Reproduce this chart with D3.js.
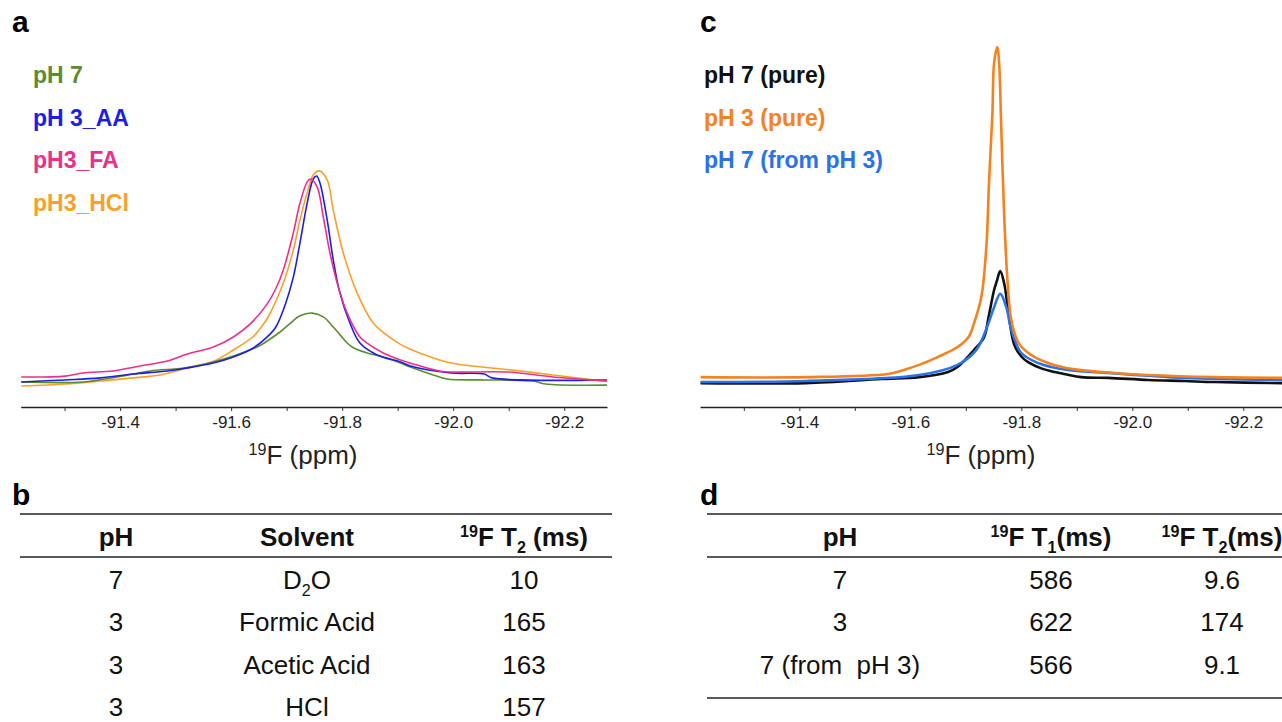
<!DOCTYPE html>
<html>
<head>
<meta charset="utf-8">
<script src="https://cdn.jsdelivr.net/npm/d3@7"></script>
<style>
  body { margin: 0; background: #fff; }
  svg { display: block; font-family: "Liberation Sans", Arial, Helvetica, sans-serif; }
</style>
</head>
<body>
<div id="app"></div>
<script>
// ---- data ----
const ppmDomain = [-91.221, -92.277];
const tickValues = [-91.3, -91.4, -91.5, -91.6, -91.7, -91.8, -91.9, -92.0, -92.1, -92.2];
const labelTicks = [-91.4, -91.6, -91.8, -92.0, -92.2];

// panel a : [ppm, intensity (a.u.)]
const aLabels = ['pH 7', 'pH 3_AA', 'pH3_FA', 'pH3_HCl'];
const aColors = ['#5b8c32', '#1e1ee0', '#ec2f8a', '#f7a12b'];
const aPH7 = [
  [-91.222, 5.8], [-91.333, 5.8], [-91.395, 8.0], [-91.454, 10.7], [-91.514, 12.0],
  [-91.568, 14.7], [-91.604, 17.3], [-91.652, 22.0], [-91.665, 24.0], [-91.688, 28.0],
  [-91.705, 31.5], [-91.724, 35.2], [-91.746, 36.4], [-91.766, 34.7], [-91.784, 30.2],
  [-91.797, 26.5], [-91.809, 23.1], [-91.820, 21.0], [-91.845, 18.7], [-91.874, 16.9],
  [-91.905, 14.2], [-91.923, 12.4], [-91.964, 8.9], [-91.989, 7.1], [-92.060, 6.7],
  [-92.144, 6.2], [-92.166, 4.9], [-92.277, 4.4]
];
const aAA = [
  [-91.222, 5.8], [-91.301, 6.7], [-91.364, 7.6], [-91.423, 9.3], [-91.485, 10.7],
  [-91.521, 12.0], [-91.568, 14.2], [-91.604, 16.9], [-91.640, 20.9], [-91.665, 25.8],
  [-91.680, 30.0], [-91.694, 37.8], [-91.712, 52.4], [-91.724, 67.6], [-91.737, 85.3],
  [-91.748, 96.0], [-91.754, 97.3], [-91.760, 94.2], [-91.773, 77.8], [-91.784, 60.0],
  [-91.796, 45.3], [-91.814, 32.0], [-91.832, 23.1], [-91.863, 17.8], [-91.905, 14.7],
  [-91.923, 12.9], [-91.996, 9.8], [-92.056, 9.3], [-92.070, 7.6], [-92.277, 6.7]
];
const aFA = [
  [-91.222, 8.0], [-91.301, 8.4], [-91.333, 9.8], [-91.387, 10.7], [-91.436, 12.9],
  [-91.485, 15.1], [-91.521, 18.2], [-91.568, 21.3], [-91.604, 25.8], [-91.634, 31.5],
  [-91.665, 40.5], [-91.680, 47.0], [-91.694, 55.6], [-91.712, 72.0], [-91.724, 85.3],
  [-91.737, 94.7], [-91.743, 96.0], [-91.755, 92.4], [-91.766, 79.1], [-91.778, 63.1],
  [-91.791, 49.8], [-91.809, 36.4], [-91.832, 25.8], [-91.845, 23.1], [-91.874, 18.7],
  [-91.905, 15.6], [-91.935, 13.3], [-91.975, 10.7], [-92.000, 10.2], [-92.099, 10.2],
  [-92.180, 8.0], [-92.277, 6.2]
];
const aHCl = [
  [-91.222, 4.0], [-91.301, 4.9], [-91.364, 6.2], [-91.423, 7.6], [-91.472, 8.9],
  [-91.521, 12.0], [-91.568, 15.0], [-91.604, 20.0], [-91.640, 26.0], [-91.652, 29.5],
  [-91.665, 34.0], [-91.694, 49.8], [-91.712, 64.4], [-91.724, 77.8], [-91.737, 89.8],
  [-91.748, 97.8], [-91.759, 99.6], [-91.773, 95.6], [-91.784, 82.2], [-91.802, 63.1],
  [-91.827, 45.3], [-91.856, 32.0], [-91.881, 26.5], [-91.905, 22.5], [-91.923, 20.3],
  [-91.953, 17.4], [-91.996, 14.2], [-92.106, 11.1], [-92.180, 8.9], [-92.277, 6.0]
];

// panel c
const cLabels = ['pH 7 (pure)', 'pH 3 (pure)', 'pH 7 (from pH 3)'];
const cColors = ['#111111', '#f5821f', '#2a72ea'];
const cPH7 = [
  [-91.222, 3.4], [-91.411, 3.4], [-91.548, 4.6], [-91.616, 5.1], [-91.668, 6.6],
  [-91.685, 8.0], [-91.715, 12.9], [-91.733, 16.5], [-91.741, 22.3], [-91.751, 30.0],
  [-91.756, 32.6], [-91.762, 35.4], [-91.769, 32.0], [-91.777, 23.4], [-91.787, 14.5],
  [-91.800, 11.0], [-91.813, 9.3], [-91.836, 7.6], [-91.859, 6.6], [-91.908, 5.1],
  [-91.957, 4.9], [-92.029, 4.3], [-92.094, 4.0], [-92.148, 3.7], [-92.272, 3.4]
];
const cPH3 = [
  [-91.222, 5.1], [-91.411, 5.1], [-91.560, 6.0], [-91.587, 7.1], [-91.616, 8.6],
  [-91.650, 10.9], [-91.685, 13.7], [-91.705, 16.6], [-91.715, 20.6], [-91.728, 28.0],
  [-91.737, 42.3], [-91.742, 61.4], [-91.748, 80.6], [-91.751, 94.9], [-91.757, 99.4],
  [-91.760, 94.9], [-91.764, 75.7], [-91.769, 52.0], [-91.775, 32.9], [-91.782, 21.4],
  [-91.795, 14.9], [-91.818, 11.4], [-91.859, 8.6], [-91.908, 7.1], [-91.968, 6.3],
  [-92.029, 5.7], [-92.148, 5.1], [-92.272, 4.9]
];
const cFrom3 = [
  [-91.222, 3.7], [-91.411, 4.0], [-91.616, 5.7], [-91.685, 8.6], [-91.719, 12.9],
  [-91.741, 20.6], [-91.751, 25.1], [-91.762, 28.9], [-91.773, 25.1], [-91.782, 18.6],
  [-91.800, 12.0], [-91.831, 9.1], [-91.854, 8.0], [-91.888, 7.1], [-91.957, 6.3],
  [-92.094, 4.9], [-92.272, 4.3]
];

// tables
const bHeader = [[{ t: 'pH' }], [{ t: 'Solvent' }], [{ t: '19', sup: true }, { t: 'F T' }, { t: '2', sub: true }, { t: ' (ms)' }]];
const bPH = ['7', '3', '3', '3'];
const bSolvent = [[{ t: 'D' }, { t: '2', sub: true }, { t: 'O' }], [{ t: 'Formic Acid' }], [{ t: 'Acetic Acid' }], [{ t: 'HCl' }]];
const bT2 = ['10', '165', '163', '157'];

const dHeader = [[{ t: 'pH' }], [{ t: '19', sup: true }, { t: 'F T' }, { t: '1', sub: true }, { t: '(ms)' }], [{ t: '19', sup: true }, { t: 'F T' }, { t: '2', sub: true }, { t: '(ms)' }]];
const dPH = ['7', '3', '7 (from\u00a0 pH 3)'];
const dT1 = ['586', '622', '566'];
const dT2 = ['9.6', '174', '9.1'];

// ---- drawing ----
const W = 1282, H = 722;
const svg = d3.select('#app').append('svg').attr('width', W).attr('height', H);

const rich = (sel, parts, size) => {
  let off = 0;
  parts.forEach(p => {
    const target = p.sup ? -size * 0.36 : p.sub ? size * 0.26 : 0;
    const ts = sel.append('tspan').text(p.t).attr('dy', target - off);
    if (p.sup || p.sub) ts.attr('font-size', size * 0.62);
    off = target;
  });
};

const panelLetter = (txt, x, y) => svg.append('text')
  .attr('x', x).attr('y', y).attr('font-size', 30).attr('font-weight', 'bold').text(txt);

const spectrum = (opt) => {
  const x = d3.scaleLinear().domain(ppmDomain).range(opt.xRange);
  const y = d3.scaleLinear().domain([0, 100]).range([395, opt.top]);
  const g = svg.append('g');

  const axis = d3.axisBottom(x)
    .tickValues(tickValues)
    .tickSize(4)
    .tickSizeOuter(0)
    .tickFormat(v => labelTicks.some(l => Math.abs(l - v) < 1e-6) ? d3.format('.1f')(v).replace('−', '-') : '');
  const ax = g.append('g').attr('transform', `translate(0,${opt.axisY})`).call(axis);
  ax.select('.domain').attr('stroke', '#222').attr('stroke-width', 1.6);
  ax.selectAll('.tick line').attr('stroke', '#333').attr('stroke-width', 1);
  ax.selectAll('.tick text')
    .attr('font-size', 17).attr('font-family', '"Liberation Sans", Arial, sans-serif')
    .attr('fill', '#222').attr('dy', '0.85em');

  const title = g.append('text')
    .attr('x', opt.titleX).attr('y', 464)
    .attr('text-anchor', 'middle').attr('font-size', 26).attr('fill', '#222');
  rich(title, [{ t: '19', sup: true }, { t: 'F (ppm)' }], 26);

  const line = d3.line().x(d => x(d[0])).y(d => y(d[1])).curve(d3.curveCatmullRom.alpha(0.5));
  g.append('g').selectAll('path')
    .data(opt.order)
    .join('path')
    .attr('d', i => line(opt.series[i]))
    .attr('fill', 'none')
    .attr('stroke', i => opt.colors[i])
    .attr('stroke-width', opt.lw)
    .attr('stroke-linejoin', 'round');

  g.append('g').selectAll('text')
    .data(opt.labels)
    .join('text')
    .attr('x', opt.legendX)
    .attr('y', (_, i) => 83 + i * 42.5)
    .attr('font-size', 23).attr('font-weight', 'bold')
    .attr('fill', (_, i) => opt.colors[i])
    .text(d => d);
};

panelLetter('a', 12, 32);
spectrum({
  xRange: [20.7, 607], top: 170, axisY: 407,
  titleX: 303, legendX: 33, lw: 1.6,
  labels: aLabels, colors: aColors,
  series: [aPH7, aAA, aFA, aHCl], order: [3, 0, 1, 2]
});

panelLetter('c', 700, 32);
spectrum({
  xRange: [700, 1286], top: 45, axisY: 407,
  titleX: 981, legendX: 704, lw: 2.6,
  labels: cLabels, colors: cColors,
  series: [cPH7, cPH3, cFrom3], order: [0, 2, 1]
});

// tables
const tableFont = 26;
const table = (opt) => {
  const g = svg.append('g').attr('font-size', tableFont).attr('fill', '#111');
  const rule = y => g.append('line')
    .attr('x1', opt.x0).attr('x2', opt.x1).attr('y1', y).attr('y2', y)
    .attr('stroke', '#222').attr('stroke-width', 1.6);
  rule(514);
  rule(557);
  if (opt.bottom) rule(opt.bottom);

  opt.header.forEach((parts, j) => {
    const t = g.append('text').attr('x', opt.cols[j]).attr('y', 546)
      .attr('text-anchor', 'middle').attr('font-weight', 'bold');
    rich(t, parts, tableFont);
  });
  opt.columns.forEach((col, j) => {
    col.forEach((cell, i) => {
      const t = g.append('text').attr('x', opt.cols[j]).attr('y', 589 + i * 42.3)
        .attr('text-anchor', 'middle');
      rich(t, typeof cell === 'string' ? [{ t: cell }] : cell, tableFont);
    });
  });
};

panelLetter('b', 12, 505);
table({
  x0: 20, x1: 612, cols: [116, 307, 524],
  header: bHeader, columns: [bPH, bSolvent, bT2]
});

panelLetter('d', 700, 505);
table({
  x0: 707, x1: 1282, cols: [840, 1051, 1222], bottom: 698,
  header: dHeader, columns: [dPH, dT1, dT2]
});
</script>
</body>
</html>
